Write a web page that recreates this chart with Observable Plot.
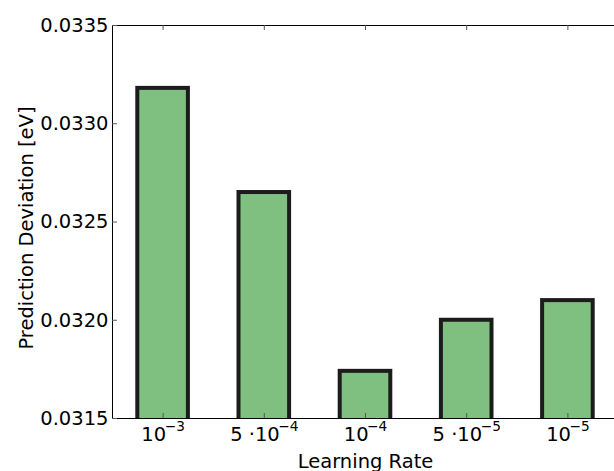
<!DOCTYPE html>
<html>
<head>
<meta charset="utf-8">
<script src="https://cdn.jsdelivr.net/npm/d3@7"></script>
<script src="https://cdn.jsdelivr.net/npm/@observablehq/plot@0.6"></script>
<style>
  html, body { margin: 0; padding: 0; background: #fff; overflow: hidden; }
  svg { display: block; }
</style>
</head>
<body>
<div id="chart"></div>
<script>
// Learning rates tried (base^exponent) and the resulting prediction deviation
const rates = ["10^\u22123", "5 \u00b710^\u22124", "10^\u22124", "5 \u00b710^\u22125", "10^\u22125"];
const deviation = [0.03318, 0.03265, 0.03174, 0.03200, 0.03210];
const yTicks = [0.0315, 0.0320, 0.0325, 0.0330, 0.0335];
const yDomain = [0.0315, 0.0335];

// bars sit at integer positions, half a unit wide
const data = rates.map((rate, i) => ({i, rate, deviation: deviation[i]}));
const positions = data.map(d => d.i);
const barHalf = 0.25;

// The axes box runs slightly past the right edge of the figure
const chart = Plot.plot({
  width: 614,
  height: 471,
  marginLeft: 112,
  marginRight: -4,
  marginTop: 25,
  marginBottom: 53,
  style: {fontFamily: "DejaVu Sans", fontSize: "19.5px", background: "white", color: "black", maxWidth: "none"},
  x: {type: "linear", domain: [-0.5, rates.length - 0.5], axis: null},
  y: {domain: yDomain, axis: null},
  marks: [
    Plot.rectY(data, {x1: d => d.i - barHalf, x2: d => d.i + barHalf, y: "deviation",
      fill: "#7fbf7f", stroke: "#1c1c1c", strokeWidth: 4, clip: true}),
    // spines: bottom, top and left
    Plot.ruleY(yDomain, {stroke: "black", strokeWidth: 1}),
    Plot.ruleX([-0.5], {stroke: "black", strokeWidth: 1}),
    // short inward ticks hanging from the top spine
    Plot.tickX(positions, {x: d => d, stroke: "#555", insetBottom: 388}),
    Plot.axisY({ticks: yTicks, tickSize: -5, tickPadding: 9, tickFormat: d3.format(".4f"), stroke: "#555", label: null}),
    Plot.axisX({anchor: "bottom", ticks: positions, tickFormat: i => rates[i], tickSize: -5, tickPadding: 14, label: null, stroke: "#555"}),
    Plot.text(["Learning Rate"], {frameAnchor: "bottom", dy: 49, lineAnchor: "bottom", fontSize: 19.5}),
    Plot.text(["Prediction Deviation [eV]"], {frameAnchor: "left", dx: -80, dy: 6, rotate: -90, lineAnchor: "bottom", textAnchor: "middle", fontSize: 19.5})
  ]
});

// Render exponents of the learning-rate labels as superscripts
d3.select(chart).selectAll('g[aria-label="x-axis tick label"] text').each(function () {
  const t = d3.select(this);
  const [base, exp] = t.text().split("^");
  t.text(null);
  t.append("tspan").text(base);
  t.append("tspan").attr("dx", -1.5).attr("dy", -10).attr("font-size", "13.7px").text(exp);
});

document.getElementById("chart").appendChild(chart);
</script>
</body>
</html>
